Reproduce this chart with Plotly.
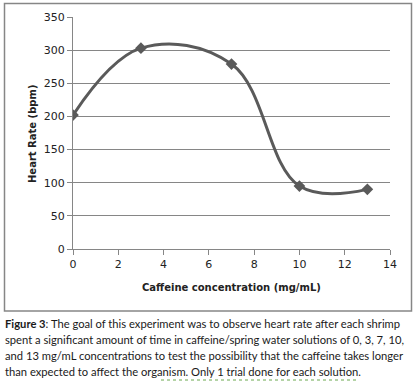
import plotly.graph_objects as go

concentration = [0, 3, 7, 10, 13]
heart_rate = [202, 303, 279, 95, 90]
x_ticks = [0, 2, 4, 6, 8, 10, 12, 14]
y_ticks = [0, 50, 100, 150, 200, 250, 300, 350]
caption_lines = [
    "<b>Figure 3</b>: The goal of this experiment was to observe heart rate after each shrimp",
    "spent a significant amount of time in caffeine/spring water solutions of 0, 3, 7, 10,",
    "and 13 mg/mL concentrations to test the possibility that the caffeine takes longer",
    "than expected to affect the organism. Only 1 trial done for each solution.",
]

W, H = 418, 383
L, R, T, B = 73, 390, 17, 249  # plot area in pixels
pw, ph = R - L, B - T

def px(x):
    return (x - L) / pw

def py(y):
    return (B - y) / ph

fig = go.Figure()
fig.add_trace(go.Scatter(
    x=concentration, y=heart_rate, mode="lines+markers",
    line=dict(color="#5a5a5a", width=3, shape="spline", smoothing=1.1),
    marker=dict(symbol="diamond", size=9, color="#5a5a5a"),
    showlegend=False, hoverinfo="skip"))

axis_font = dict(family="DejaVu Sans", size=11, color="#222222")
fig.update_layout(
    width=W, height=H,
    margin=dict(l=L, r=W - R, t=T, b=H - B),
    paper_bgcolor="white", plot_bgcolor="white",
    xaxis=dict(range=[0, 14], tickvals=x_ticks, showgrid=False,
               showline=True, linecolor="#868686", linewidth=1,
               ticks="outside", ticklen=5, tickcolor="#868686",
               tickfont=axis_font, zeroline=False),
    yaxis=dict(range=[0, 350], tickvals=y_ticks, showgrid=True,
               gridcolor="#868686", gridwidth=1,
               showline=True, linecolor="#868686", linewidth=1,
               ticks="outside", ticklen=5, tickcolor="#868686",
               tickfont=axis_font, zeroline=False),
)

title_font = dict(family="DejaVu Sans", size=10, color="#222222")
fig.add_annotation(text="<b>Caffeine concentration (mg/mL)</b>", xref="paper", yref="paper",
                   x=px(231), y=py(287), xanchor="center", yanchor="middle",
                   showarrow=False, font=title_font)
fig.add_annotation(text="<b>Heart Rate (bpm)</b>", xref="paper", yref="paper",
                   x=px(32), y=py(134), xanchor="center", yanchor="middle",
                   textangle=-90, showarrow=False, font=title_font)

# chart border
fig.add_shape(type="rect", xref="paper", yref="paper",
              x0=px(4.5), x1=px(411.5), y0=py(311), y1=py(3.5),
              line=dict(color="#868686", width=1.5), fillcolor="rgba(0,0,0,0)",
              layer="above")

for i, line in enumerate(caption_lines):
    fig.add_annotation(text=line, xref="paper", yref="paper",
                       x=px(3), y=py(323 + 16 * i), xanchor="left", yanchor="middle",
                       align="left", showarrow=False,
                       font=dict(family="Lato", size=11.2, color="#1a1a1a"))

# spell-check style dotted underline
fig.add_shape(type="line", xref="paper", yref="paper",
              x0=px(161), x1=px(359), y0=py(380), y1=py(380),
              line=dict(color="#6aa84f", width=1, dash="dot"), layer="above")

fig.write_html("out.html", config={"displayModeBar": False},
               post_script="document.body.style.margin='0';")
